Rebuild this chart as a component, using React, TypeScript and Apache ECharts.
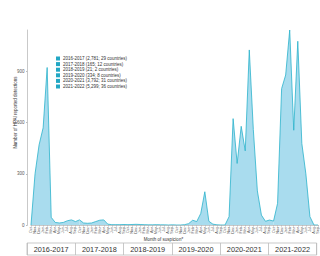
import React, { useEffect, useRef } from "react";
import * as echarts from "echarts";

const monthNames = ["Oct", "Nov", "Dec", "Jan", "Feb", "Mar", "Apr", "May", "Jun", "Jul", "Aug", "Sep"];
const seasons = ["2016-2017", "2017-2018", "2018-2019", "2019-2020", "2020-2021", "2021-2022"];
const seasonLabels = [
  "2016-2017 (2,781; 29 countries)",
  "2017-2018 (165; 12 countries)",
  "2018-2019 (21; 2 countries)",
  "2019-2020 (334; 8 countries)",
  "2020-2021 (3,792; 31 countries)",
  "2021-2022 (5,299; 36 countries)",
];
const s2016 = [0, 300, 470, 570, 924, 45, 15, 12, 15, 25, 30, 20];
const s2017 = [30, 12, 10, 12, 20, 28, 30, 5, 2, 2, 2, 3];
const s2018 = [2, 3, 4, 3, 2, 1, 1, 2, 1, 1, 0, 1];
const s2019 = [0, 0, 2, 8, 28, 20, 68, 195, 22, 5, 1, 0];
const s2020 = [0, 49, 624, 361, 579, 435, 1027, 560, 200, 58, 22, 29];
const s2021 = [23, 127, 800, 880, 1144, 556, 1078, 478, 300, 49, 0, 0];
const seasonValues = [s2016, s2017, s2018, s2019, s2020, s2021];

export default function App() {
  const ref = useRef<HTMLDivElement>(null);
  useEffect(() => {
    if (!ref.current) return;
    const chart = echarts.init(ref.current, null, { renderer: "svg" });
    const months: string[] = [];
    seasons.forEach(() => monthNames.forEach((m) => months.push(m)));
    const all: number[] = ([] as number[]).concat(...seasonValues);
    const series = seasonValues.map((vals, k) => {
      const data: (number | null)[] = all.map((v, i) => {
        if (i >= k * 12 && i <= k * 12 + 12) return v;
        return null;
      });
      return {
        name: seasonLabels[k],
        type: "line",
        xAxisIndex: 0,
        yAxisIndex: 0,
        data,
        showSymbol: false,
        smooth: false,
        connectNulls: false,
        lineStyle: { color: "#2bb3cc", width: 0.8 },
        itemStyle: { color: "#22a7c4" },
        areaStyle: { color: "#a9dcee", opacity: 1 },
      };
    });
    chart.setOption({
      animation: false,
      textStyle: { fontFamily: "Liberation Sans, Arial, sans-serif" },
      legend: {
        orient: "vertical",
        left: 56,
        top: 56,
        padding: 0,
        itemWidth: 4,
        itemHeight: 4,
        itemGap: 0.6,
        icon: "rect",
        data: seasonLabels,
        textStyle: { fontSize: 4.5, color: "#333", padding: [0, 0, 0, -2] },
      },
      grid: [
        { left: 31, right: 2, top: 30, bottom: 31 },
        { left: 27, right: 3.3, top: 243, height: 12, show: true, borderColor: "#bbb", borderWidth: 0.8 },
      ],
      xAxis: [
        {
          type: "category",
          gridIndex: 0,
          data: months,
          boundaryGap: false,
          name: "Month of suspicion*",
          nameLocation: "middle",
          nameGap: 12,
          nameMoveOverlap: false,
          nameTextStyle: { fontSize: 4.5, color: "#333", padding: [0, 22, 0, 0] },
          axisLine: { lineStyle: { color: "#bbb", width: 0.8 } },
          axisTick: { show: true, interval: 0, length: 1.5, lineStyle: { color: "#bbb" } },
          axisLabel: { interval: 0, rotate: 90, fontSize: 3.8, color: "#555", margin: 2 },
        },
        {
          type: "category",
          gridIndex: 1,
          data: seasons,
          boundaryGap: true,
          axisLine: { show: false },
          axisTick: { show: false },
          splitLine: { show: true, interval: 0, lineStyle: { color: "#bbb", width: 0.8 } },
          axisLabel: { interval: 0, fontSize: 7.3, color: "#333", margin: -9.5 },
        },
      ],
      yAxis: [
        {
          type: "value",
          gridIndex: 0,
          min: 0,
          max: "dataMax",
          interval: 300,
          offset: 3.5,
          name: "Number of HPAI reported detections",
          nameLocation: "middle",
          nameGap: 10,
          nameMoveOverlap: false,
          nameTextStyle: { fontSize: 4.5, color: "#333", padding: [0, 0, 0, 30] },
          axisLine: { show: true, lineStyle: { color: "#bbb", width: 0.8 } },
          axisTick: { show: true, length: 1.5, lineStyle: { color: "#bbb" } },
          axisLabel: { fontSize: 4.5, color: "#555", margin: 3, showMaxLabel: false },
          splitLine: { show: false },
        },
        { type: "value", gridIndex: 1, show: false },
      ],
      series,
    });
    return () => chart.dispose();
  }, []);
  return (
    <div
      ref={ref}
      style={{ position: "fixed", left: 0, top: 0, width: 320, height: 256, background: "#fff" }}
    />
  );
}
